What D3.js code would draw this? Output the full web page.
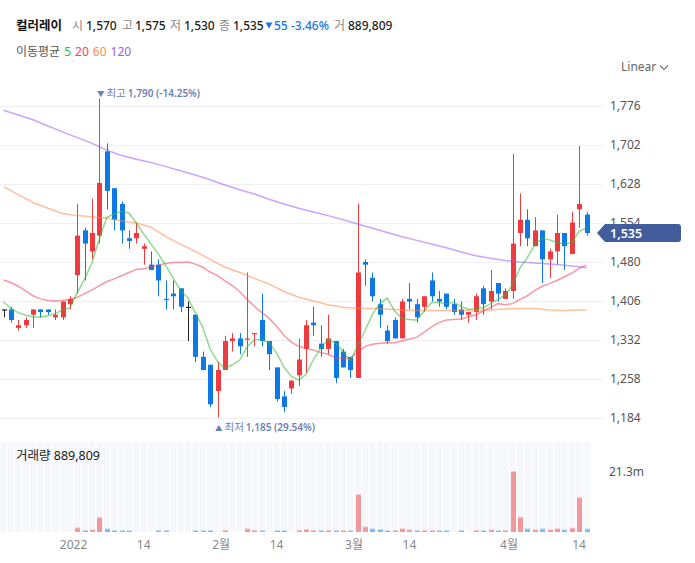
<!DOCTYPE html>
<html>
<head>
<meta charset="utf-8">
<script src="https://cdn.jsdelivr.net/npm/d3@7"></script>
<style>
  body { margin: 0; background: #fff; }
  text { font-family: "Noto Sans", "Noto Sans CJK KR", sans-serif; }
</style>
</head>
<body>
<div id="chart"></div>
<script>
// 컬러레이 일봉, 2021-12-17 ~ 2022-04-15
const dates = [
  '2021-12-17','2021-12-20','2021-12-21','2021-12-22','2021-12-23','2021-12-24','2021-12-27','2021-12-28','2021-12-29','2021-12-30',
  '2022-01-03','2022-01-04','2022-01-05','2022-01-06','2022-01-07','2022-01-10','2022-01-11','2022-01-12','2022-01-13','2022-01-14',
  '2022-01-17','2022-01-18','2022-01-19','2022-01-20','2022-01-21','2022-01-24','2022-01-25','2022-01-26','2022-01-27','2022-01-28',
  '2022-02-03','2022-02-04','2022-02-07','2022-02-08','2022-02-09','2022-02-10','2022-02-11','2022-02-14','2022-02-15','2022-02-16',
  '2022-02-17','2022-02-18','2022-02-21','2022-02-22','2022-02-23','2022-02-24','2022-02-25','2022-02-28','2022-03-02','2022-03-03',
  '2022-03-04','2022-03-07','2022-03-08','2022-03-10','2022-03-11','2022-03-14','2022-03-15','2022-03-16','2022-03-17','2022-03-18',
  '2022-03-21','2022-03-22','2022-03-23','2022-03-24','2022-03-25','2022-03-28','2022-03-29','2022-03-30','2022-03-31','2022-04-01',
  '2022-04-04','2022-04-05','2022-04-06','2022-04-07','2022-04-08','2022-04-11','2022-04-12','2022-04-13','2022-04-14','2022-04-15'
];

const open = [
  1390,1390,1355,1360,1380,1390,1390,1375,1375,1400,
  1455,1540,1500,1530,1690,1620,1590,1525,1525,1505,
  1475,1475,1410,1420,1430,1395,1380,1300,1285,1235,
  1275,1330,1335,1335,1345,1370,1330,1280,1225,1240,
  1265,1315,1365,1325,1315,1330,1310,1300,1260,1480,
  1450,1400,1350,1370,1335,1410,1400,1395,1445,1410,
  1420,1400,1390,1380,1385,1430,1405,1440,1410,1425,
  1535,1560,1510,1540,1485,1500,1535,1495,1580,1570
];
const high = [
  1390,1395,1370,1375,1390,1390,1390,1390,1405,1415,
  1590,1545,1600,1790,1705,1620,1595,1540,1555,1515,
  1500,1485,1445,1445,1430,1405,1380,1310,1285,1290,
  1340,1345,1345,1460,1345,1420,1330,1280,1235,1255,
  1335,1370,1395,1360,1380,1330,1315,1300,1590,1485,
  1460,1410,1360,1375,1410,1440,1410,1415,1460,1425,
  1420,1410,1405,1385,1420,1435,1465,1440,1430,1685,
  1610,1580,1565,1540,1505,1570,1535,1575,1700,1575
];
const low = [
  1375,1365,1350,1355,1355,1375,1380,1370,1370,1390,
  1420,1445,1485,1515,1580,1540,1515,1505,1515,1475,
  1465,1415,1390,1390,1385,1330,1290,1275,1205,1185,
  1275,1310,1305,1300,1320,1320,1275,1215,1195,1230,
  1245,1270,1340,1300,1305,1250,1280,1260,1260,1435,
  1405,1355,1325,1335,1335,1390,1365,1385,1405,1395,
  1390,1380,1370,1365,1370,1380,1390,1405,1410,1410,
  1510,1510,1510,1440,1450,1475,1465,1495,1545,1530
];
const close = [
  1390,1370,1360,1370,1390,1385,1385,1380,1405,1410,
  1530,1515,1535,1630,1615,1560,1540,1520,1535,1510,
  1465,1445,1410,1415,1395,1395,1300,1275,1210,1275,
  1330,1335,1320,1335,1345,1330,1305,1220,1205,1255,
  1295,1360,1360,1315,1335,1260,1280,1275,1460,1475,
  1415,1380,1330,1335,1405,1405,1375,1415,1415,1405,
  1395,1385,1380,1385,1415,1400,1425,1420,1425,1515,
  1560,1525,1540,1485,1500,1535,1510,1555,1590,1535
];
const prevCloseBefore = 1390;

const volume = [
  100000,90000,80000,120000,110000,90000,80000,100000,130000,150000,
  1300000,350000,600000,4900000,950000,350000,330000,320000,150000,130000,
  140000,340000,330000,150000,140000,150000,350000,340000,360000,150000,
  350000,150000,150000,950000,350000,350000,150000,350000,350000,150000,
  400000,700000,350000,350000,350000,350000,350000,350000,13100000,1600000,
  950000,700000,350000,350000,950000,600000,350000,350000,350000,350000,
  350000,150000,350000,150000,350000,350000,600000,350000,350000,21300000,
  5000000,950000,600000,950000,600000,950000,600000,1200000,12000000,889809
];

// 이동평균
const ma5 = [
  1404,1392,1384,1379,1376,1375,1378,1382,1389,1393,
  1422,1448,1479,1524,1565,1571,1576,1573,1554,1533,
  1514,1495,1473,1449,1426,1412,1383,1356,1315,1291,
  1278,1285,1294,1319,1333,1333,1327,1307,1281,1263,
  1256,1267,1295,1317,1333,1326,1310,1293,1322,1350,
  1381,1401,1412,1387,1373,1371,1370,1387,1403,1403,
  1401,1403,1396,1390,1392,1393,1401,1409,1417,1437,
  1469,1489,1513,1525,1522,1517,1514,1517,1538,1545
];
const ma20 = [
  1446,1441,1434,1425,1416,1410,1407,1406,1407,1409,
  1413,1420,1427,1435,1443,1448,1454,1460,1466,1467,
  1471,1474,1477,1479,1479,1480,1476,1470,1461,1454,
  1444,1435,1424,1409,1396,1384,1373,1358,1341,1328,
  1320,1316,1313,1308,1305,1298,1297,1297,1310,1320,
  1324,1326,1327,1327,1330,1334,1337,1347,1357,1365,
  1370,1371,1372,1376,1380,1387,1394,1401,1399,1401,
  1409,1416,1426,1434,1439,1445,1452,1459,1468,1474
];
// 60/120일선: 2거래일마다 + 마지막 날
const maSampleDates = [
  '2021-12-17','2021-12-21','2021-12-23','2021-12-27','2021-12-29','2022-01-03','2022-01-05','2022-01-07','2022-01-11','2022-01-13',
  '2022-01-17','2022-01-19','2022-01-21','2022-01-25','2022-01-27','2022-02-03','2022-02-07','2022-02-09','2022-02-11','2022-02-15',
  '2022-02-17','2022-02-21','2022-02-23','2022-02-25','2022-03-02','2022-03-04','2022-03-08','2022-03-11','2022-03-15','2022-03-17',
  '2022-03-21','2022-03-23','2022-03-25','2022-03-29','2022-03-31','2022-04-04','2022-04-06','2022-04-08','2022-04-12','2022-04-14',
  '2022-04-15'
];
const ma60 = [
  1623,1608,1593,1582,1572,1568,1566,1563,1558,1554,
  1546,1528,1514,1500,1485,1470,1460,1449,1438,1424,
  1413,1406,1399,1394,1392,1392,1391,1389,1388,1388,
  1388,1388,1388,1389,1391,1392,1392,1389,1388,1389,
  1389
];
const ma120 = [
  1768,1759,1750,1738,1727,1716,1705,1692,1682,1675,
  1669,1661,1653,1645,1636,1626,1617,1609,1599,1590,
  1582,1575,1568,1560,1552,1544,1536,1528,1521,1514,
  1507,1499,1492,1487,1483,1480,1478,1476,1474,1471,
  1469
];

const priceTicks = [1184, 1258, 1332, 1406, 1480, 1554, 1628, 1702, 1776];
const dateTicks = [
  { date: '2022-01-03', label: '2022', month: true },
  { date: '2022-01-14', label: '14', month: false },
  { date: '2022-02-03', label: '2월', month: true },
  { date: '2022-02-14', label: '14', month: false },
  { date: '2022-03-02', label: '3월', month: true },
  { date: '2022-03-14', label: '14', month: false },
  { date: '2022-04-01', label: '4월', month: true },
  { date: '2022-04-14', label: '14', month: false },
];

const UP = '#ef3a3f', DOWN = '#0d78e6', FLAT = '#222';
const maColors = { 5: '#35bb35', 20: '#f0445a', 60: '#ff8a4c', 120: '#9b5cf5' };

function renderChart(containerSelector) {
  const W = 695, H = 563;
  const svg = d3.select(containerSelector).append('svg')
    .attr('width', W).attr('height', H);

  const x = d3.scalePoint().domain(dates).range([3.5, 586.5]);
  const step = x.step();
  const y = d3.scaleLinear().domain([1184, 1776]).range([418, 106]);
  const yVol = d3.scaleLinear().domain([0, d3.max(volume)]).range([532, 472]);
  const fmt = d3.format(',');

  const rows = dates.map((d, i) => ({
    date: d, o: open[i], h: high[i], l: low[i], c: close[i], v: volume[i],
    pc: i === 0 ? prevCloseBefore : close[i - 1],
  }));
  const candleColor = d => d.c > d.o ? UP : d.c < d.o ? DOWN : (d.c > d.pc ? UP : d.c < d.pc ? DOWN : FLAT);

  // header
  const last = rows[rows.length - 1];
  const chg = last.c - last.pc;
  const hdr = svg.append('g').style('font-size', '12px');
  hdr.append('text').attr('x', 16).attr('y', 30).attr('font-weight', 700).attr('fill', '#111')
    .style('font-size', '12.5px').text('컬러레이');
  const items = [
    [72, '시', '#888'], [86, fmt(last.o), '#222'],
    [122, '고', '#888'], [135, fmt(last.h), '#222'],
    [170, '저', '#888'], [184, fmt(last.l), '#222'],
    [219, '종', '#888'], [233, fmt(last.c), '#222'],
    [274, String(Math.abs(chg)), '#1a73e8'],
    [291, (chg / last.pc * 100).toFixed(2) + '%', '#1a73e8'],
    [334, '거', '#888'], [348, fmt(last.v), '#222'],
  ];
  items.forEach(([xx, t, col]) => {
    hdr.append('text').attr('x', xx).attr('y', 30).attr('fill', col)
      .attr('font-weight', col === '#888' ? 400 : 500).text(t);
  });
  hdr.append('path').attr('d', 'M265.5,22.5 h7 l-3.5,6 z').attr('fill', '#1a73e8');

  const leg = svg.append('text').attr('x', 16).attr('y', 56).style('font-size', '12px');
  leg.append('tspan').attr('fill', '#555').text('이동평균');
  [5, 20, 60, 120].forEach(n => leg.append('tspan').attr('dx', 4).attr('fill', maColors[n]).text(n));

  svg.append('text').attr('x', 621).attr('y', 71).attr('fill', '#666').style('font-size', '12px').text('Linear');
  svg.append('path').attr('d', 'M660,65.5 l4,4 l4,-4').attr('fill', 'none').attr('stroke', '#777').attr('stroke-width', 1.2);

  // grid
  svg.append('g').selectAll('line').data(priceTicks).join('line')
    .attr('x1', 0).attr('x2', 603)
    .attr('y1', d => Math.round(y(d)) + 0.5).attr('y2', d => Math.round(y(d)) + 0.5)
    .attr('stroke', '#eef0f4');

  // volume background stripes
  svg.append('g').selectAll('rect').data(rows).join('rect')
    .attr('x', d => x(d.date) - step / 2 + 0.5).attr('width', step - 1)
    .attr('y', 442).attr('height', 90).attr('fill', '#f5f7fb');

  // volume bars
  const vg = svg.append('g');
  rows.forEach(d => {
    const up = d.c >= d.pc;
    const top = yVol(d.v), hgt = 532 - top;
    if (hgt < 0.5) return;
    const bx = Math.round(x(d.date)) - 2;
    vg.append('rect').attr('x', bx).attr('width', 5)
      .attr('y', top - 1).attr('height', hgt + 1).attr('fill', up ? '#f8c6c8' : '#c0dbf7');
    vg.append('rect').attr('x', bx).attr('width', 5)
      .attr('y', top).attr('height', hgt).attr('fill', up ? '#f2979b' : '#80b9f1');
  });

  svg.append('text').attr('x', 16).attr('y', 460).style('font-size', '12.5px').attr('fill', '#222')
    .text('거래량 ' + fmt(last.v));
  svg.append('text').attr('x', 609).attr('y', yVol(d3.max(volume)) + 4).style('font-size', '12px').attr('fill', '#555')
    .text((d3.max(volume) / 1e6).toFixed(1) + 'm');

  // candles
  const cg = svg.append('g');
  rows.forEach(d => {
    const cx = Math.round(x(d.date)) + 0.5;
    const col = candleColor(d);
    cg.append('line').attr('x1', cx).attr('x2', cx).attr('y1', y(d.h)).attr('y2', y(d.l))
      .attr('stroke', col).attr('stroke-width', 1);
    const t = y(Math.max(d.o, d.c)), b = y(Math.min(d.o, d.c));
    cg.append('rect').attr('x', cx - 2.5).attr('width', 5)
      .attr('y', t).attr('height', Math.max(b - t, 1.2)).attr('fill', col);
  });

  // moving averages
  const line = d3.line().x(d => x(d[0])).y(d => y(d[1]));
  const maDefs = [
    [120, maSampleDates.map((d, i) => [d, ma120[i]])],
    [60, maSampleDates.map((d, i) => [d, ma60[i]])],
    [20, dates.map((d, i) => [d, ma20[i]])],
    [5, dates.map((d, i) => [d, ma5[i]])],
  ];
  maDefs.forEach(([n, pts]) => {
    svg.append('path').datum(pts).attr('d', line)
      .attr('fill', 'none').attr('stroke', maColors[n]).attr('stroke-opacity', 0.55).attr('stroke-width', 1.5);
  });

  // right price axis
  const ax = svg.append('g').attr('transform', 'translate(603,0)')
    .call(d3.axisRight(y).tickValues(priceTicks).tickSize(0).tickPadding(7).tickFormat(fmt));
  ax.select('.domain').remove();
  ax.selectAll('text').attr('fill', '#555').style('font-size', '12px')
    .style('font-family', '"Noto Sans", sans-serif');

  // last price tag
  const ly = y(last.c);
  svg.append('path')
    .attr('d', `M597,${ly} L605,${ly - 9} H678 Q681,${ly - 9} 681,${ly - 6} V${ly + 6} Q681,${ly + 9} 678,${ly + 9} H605 Z`)
    .attr('fill', '#425c9c');
  svg.append('text').attr('x', 610).attr('y', ly + 4.5).attr('fill', '#fff')
    .style('font-size', '12.5px').attr('font-weight', 600).text(fmt(last.c));

  // high / low annotations
  const iMax = d3.maxIndex(high), iMin = d3.minIndex(low);
  const ann = (i, val, isMax) => {
    const g = svg.append('text').attr('x', x(dates[i]) - 2.5).attr('y', isMax ? 97 : 431)
      .style('font-size', '10px').attr('fill', '#6d7fb5');
    g.append('tspan').style('font-size', '7.5px').text(isMax ? '▼' : '▲');
    g.append('tspan').attr('dx', 2).style('font-size', '10.5px').text(isMax ? '최고' : '최저');
    const pct = (last.c - val) / val * 100;
    g.append('tspan').attr('dx', 2).attr('font-weight', 600)
      .text(`${fmt(val)} (${pct.toFixed(2)}%)`);
  };
  ann(iMax, high[iMax], true);
  ann(iMin, low[iMin], false);

  // date axis
  svg.append('g').selectAll('text').data(dateTicks).join('text')
    .attr('x', d => x(d.date) - (d.month ? step / 2 : 0))
    .attr('y', 549).attr('text-anchor', 'middle')
    .style('font-size', '12px').attr('fill', '#888').text(d => d.label);
}

renderChart('#chart');
</script>
</body>
</html>
